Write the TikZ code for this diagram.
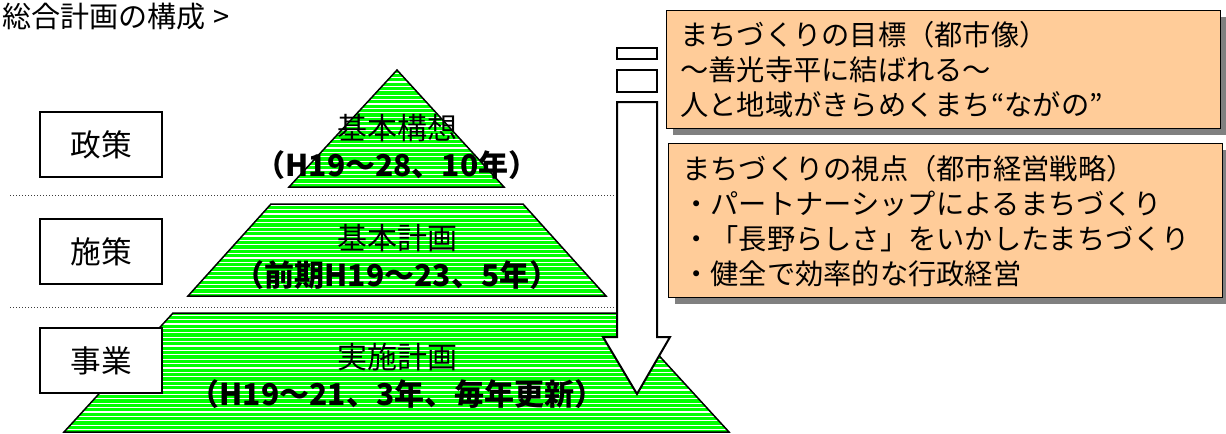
\documentclass[tikz,border=0pt]{standalone}
\usepackage{fontspec}
\setmainfont{Noto Sans CJK JP}
\usetikzlibrary{shadows}
\definecolor{pgreen}{RGB}{0,255,0}
\definecolor{peach}{RGB}{255,204,153}
\definecolor{shgray}{RGB}{128,128,128}
\definecolor{dotgray}{RGB}{60,60,60}
\tikzset{
  layer/.style={draw=black, line width=1.125pt, line join=miter},
  labelbox/.style={draw=black, fill=white, line width=1.125pt, minimum width=91.5pt, minimum height=48.75pt, inner sep=0pt, font=\fontsize{23pt}{26pt}\selectfont},
  infobox/.style={draw=black, fill=peach, line width=0.9pt, anchor=north west, inner xsep=10pt, inner ysep=0pt, align=left,
     general shadow={fill=shgray, shadow xshift=4.5pt, shadow yshift=-4.5pt},
     font=\fontsize{21.2pt}{26.25pt}\selectfont},
  pyrtitle/.style={font=\fontsize{22.5pt}{26pt}\selectfont, inner sep=0pt},
  pyrsub/.style={font=\fontsize{22.5pt}{26pt}\selectfont\bfseries, inner sep=0pt},
  sep/.style={dotgray, line width=0.75pt, dash pattern=on 0.75pt off 1.5pt},
  bigarrow/.style={draw=black, fill=white, line width=1.5pt, line join=miter},
}
\newcommand{\stripedlayer}[1]{%
  \fill[pgreen] #1;
  \begin{scope}
    \clip #1;
    \foreach \i in {0,...,85} {
      \draw[white, line width=0.9pt] (40,{60+4.4*\i}) -- (760,{60+4.4*\i});
    }
  \end{scope}
  \draw[layer] #1;
}
\begin{document}
\begin{tikzpicture}[x=0.75pt,y=-0.75pt]
\useasboundingbox (0,0) rectangle (1226,433);

% title
\node[anchor=west, inner sep=0pt, font=\fontsize{21.8pt}{25pt}\selectfont] (title) at (2,17) {総合計画の構成\hspace{6pt}>};

% pyramid layers
\stripedlayer{(397,70) -- (504,187) -- (289,187) -- cycle}
\stripedlayer{(271,204) -- (523,204) -- (606,296) -- (188,296) -- cycle}
\stripedlayer{(173,313) -- (620,313) -- (729,432) -- (64,432) -- cycle}

% dotted separators
\coordinate (s1a) at (10,195);
\coordinate (s1b) at (617,195);
\coordinate (s2a) at (10,307);
\coordinate (s2b) at (617,307);
\draw[sep] (s1a) -- (s1b);
\draw[sep] (s2a) -- (s2b);

% left labels
\node[labelbox] (seisaku) at (101,144.5) {政策};
\node[labelbox] (shisaku) at (101,251.5) {施策};
\node[labelbox] (jigyo) at (101,360.5) {事業};

% big arrow
\draw[bigarrow] (617,48) rectangle (657,59);
\draw[bigarrow] (617,70) rectangle (657,92);
\draw[bigarrow] (617,102) -- (617,337) -- (603,337) -- (637,394) -- (670,337) -- (657,337) -- (657,102) -- cycle;

% pyramid texts
\node[pyrtitle] (kousou) at (397,128) {基本構想};
\node[pyrsub] (kousouY) at (397,165) {（H19～28、10年）};
\node[pyrtitle] (keikaku) at (397,238) {基本計画};
\node[pyrsub] (keikakuY) at (397,275) {（前期H19～23、5年）};
\node[pyrtitle] (jisshi) at (397,357) {実施計画};
\node[pyrsub] (jisshiY) at (397,394) {（H19～21、3年、毎年更新）};

% info boxes
\node[infobox, minimum width=415.5pt, minimum height=88.5pt, text width=395pt] (goal) at (666,10)
 {まちづくりの目標（都市像）\\ ～善光寺平に結ばれる～\\人と地域がきらめくまち“ながの”};
\node[infobox, minimum width=415.5pt, minimum height=115.5pt, text width=395pt] (view) at (668,143)
 {まちづくりの視点（都市経営戦略）\\・パートナーシップによるまちづくり\\・「長野らしさ」をいかしたまちづくり\\・健全で効率的な行政経営};
\end{tikzpicture}
\end{document}
